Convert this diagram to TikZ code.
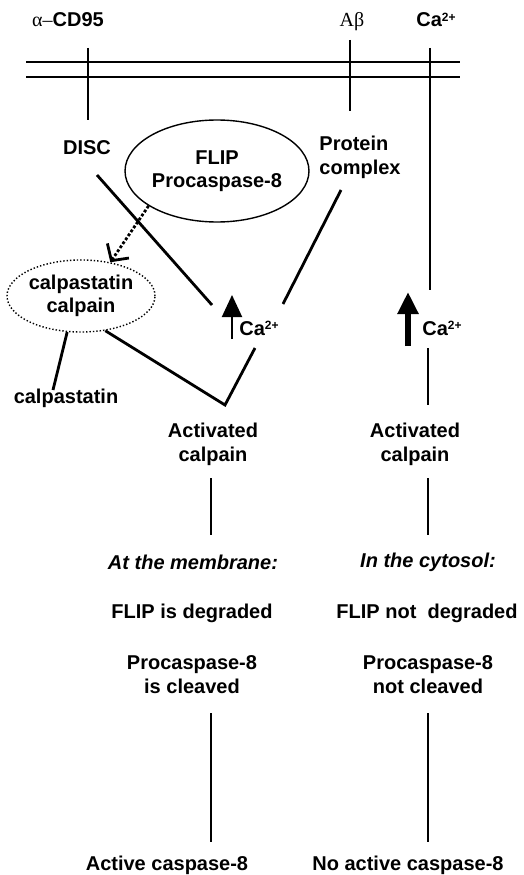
\documentclass[tikz,border=0pt]{standalone}
\usepackage{fontspec}
\setmainfont{Liberation Sans}
\newfontfamily\grk{Liberation Serif}
\usetikzlibrary{arrows.meta,positioning,shapes.geometric}
\newcommand{\caion}{Ca\raisebox{0.55ex}{\fontsize{12}{12}\selectfont 2+}}

\begin{document}
\begin{tikzpicture}[x=1pt,y=-1pt,
    txt/.style={draw=none,fill=none,inner sep=0pt,
      align=center,font=\fontsize{20}{24}\selectfont\bfseries},
    oval/.style={ellipse,draw=black,line width=1.4pt,inner sep=0pt,
      align=center,font=\fontsize{20}{23}\selectfont\bfseries},
    conn/.style={draw=black,line width=2.8pt},
    up/.style={draw=black,-{Triangle[length=22pt,width=20pt]}}
  ]
    \useasboundingbox (0,0) rectangle (523,875);
    \node[txt] (cd95) at (68,20) {{\grk\mdseries α–}CD95};
    \node[txt,anchor=base] (abeta) at (352,27) {\grk\mdseries Aβ};
    \node[txt] (caout) at (436,20) {\caion};
    \draw[conn] (26,62) -- (460,62) (26,77) -- (460,77);
    \coordinate (r1a) at (88,48);\coordinate (r1b) at (88,120);
    \coordinate (r2a) at (350,40);\coordinate (r2b) at (350,111);
    \coordinate (r3a) at (430,48);\coordinate (r3b) at (430,290);
    \draw[conn] (r1a)--(r1b);\draw[conn] (r2a)--(r2b);\draw[conn] (r3a)--(r3b);

    \node[txt] (disc) at (87,148) {DISC};
    \node[oval,minimum width=182pt,minimum height=102pt] (flip) at (217,171)
      {FLIP\\Procaspase-8};
    \node[txt,align=left] (prot) at (360,157) {Protein\\complex};
    \node[oval,dotted,minimum width=148pt,minimum height=72pt] (cpc) at (81,296)
      {calpastatin\\calpain};
    \node[txt] (cpst) at (66,398) {calpastatin};

    \coordinate (d1) at (97,175);\coordinate (d2) at (212,305);
    \coordinate (p1) at (341,190);\coordinate (p2) at (283,304);
    \draw[conn] (d1)--(d2);\draw[conn] (p1)--(p2);
    \draw[conn,dotted,-{Straight Barb[length=12pt,width=26pt]}] (flip.207)--(cpc.49);

    \coordinate (a1) at (232,339);\coordinate (a1h) at (232,295);
    \coordinate (a2) at (408,346);\coordinate (a2h) at (408,292);
    \draw[up,line width=2pt] (a1)--(a1h);
    \draw[up,line width=6pt] (a2)--(a2h);
    \node[txt] (ca1) at (259,328) {\caion};
    \node[txt] (ca2) at (442,328) {\caion};

    \coordinate (v) at (225,405);\coordinate (w) at (255,348);
    \draw[conn] (cpc.-55)--(v)--(w);
    \coordinate (c1) at (53,390);
    \draw[conn] (cpc.-111)--(c1);
    \coordinate (q1) at (428,348);\coordinate (q2) at (428,405);
    \draw[conn] (q1)--(q2);

    \node[txt] (act1) at (213,444) {Activated\\calpain};
    \node[txt] (act2) at (415,444) {Activated\\calpain};
    \coordinate (s1) at (211,478);\coordinate (s2) at (211,535);
    \coordinate (t1) at (428,478);\coordinate (t2) at (428,535);
    \draw[conn] (s1)--(s2);\draw[conn] (t1)--(t2);

    \node[txt,font=\fontsize{20}{24}\selectfont\bfseries\itshape] (memb) at (193,562) {At the membrane:};
    \node[txt,font=\fontsize{20}{24}\selectfont\bfseries\itshape] (cyto) at (428,562) {In the cytosol:};
    \node[txt] (deg1) at (192,613) {FLIP is degraded};
    \node[txt] (deg2) at (427,613) {FLIP not\ \ degraded};
    \node[txt] (clv1) at (192,675) {Procaspase-8\\is cleaved};
    \node[txt] (clv2) at (428,675) {Procaspase-8\\not cleaved};
    \coordinate (g1) at (211,713);\coordinate (g2) at (211,842);
    \coordinate (h1) at (428,713);\coordinate (h2) at (428,842);
    \draw[conn] (g1)--(g2);\draw[conn] (h1)--(h2);
    \node[txt] (out1) at (167,865) {Active caspase-8};
    \node[txt] (out2) at (408,865) {No active caspase-8};
  \end{tikzpicture}
\end{document}
